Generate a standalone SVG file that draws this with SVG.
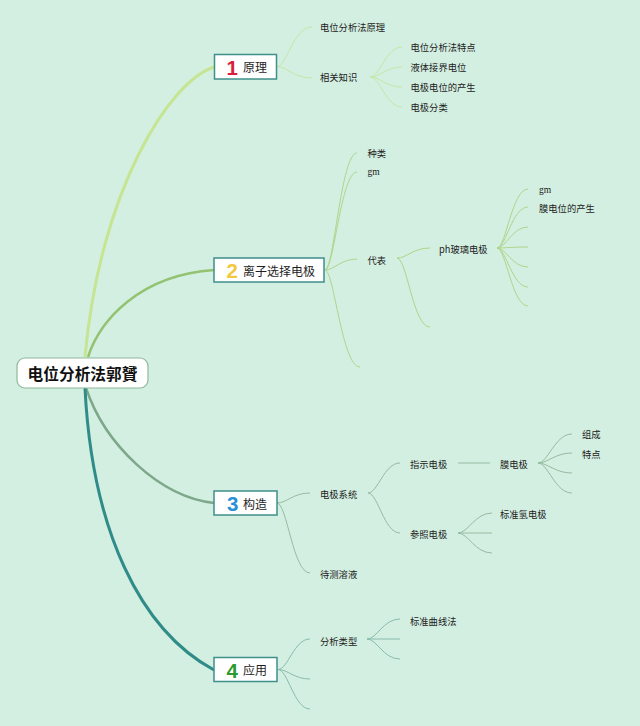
<svg xmlns="http://www.w3.org/2000/svg" width="640" height="726" viewBox="0 0 640 726">
<style>
.t{font-family:"Noto Sans CJK SC","Noto Sans",sans-serif;font-size:9.3px;fill:#222;dominant-baseline:central}
.s{font-family:"Liberation Serif",serif;font-size:9.5px;fill:#222;dominant-baseline:central}
.bl{font-family:"Noto Sans CJK SC","Noto Sans",sans-serif;font-size:12px;fill:#1e1e1e;dominant-baseline:central}
.num{font-family:"Liberation Sans",Arial,sans-serif;font-size:20.5px;font-weight:bold;dominant-baseline:central;text-anchor:end}
.box{fill:#fff;stroke:#3f8f8a;stroke-width:1.5}
.l1{fill:none;stroke:#c6e6a8;stroke-width:1}
.l2{fill:none;stroke:#afd58a;stroke-width:1}
.l3{fill:none;stroke:#95bca0;stroke-width:1}
.l4{fill:none;stroke:#88bcae;stroke-width:1}
</style>
<rect x="0" y="0" width="640" height="726" fill="#d3efe1"/>
<g id="connectors">
<path d="M85,357 C100,190 170,80 214.5,67" fill="none" stroke="#c5e592" stroke-width="3"/>
<path d="M88,357 C100,320 140,275 214,270" fill="none" stroke="#93c270" stroke-width="2.5"/>
<path d="M86,388 C105,445 160,497 214,503" fill="none" stroke="#7ea88a" stroke-width="2.5"/>
<path d="M85,388 C92,530 140,630 214,670" fill="none" stroke="#2f8c88" stroke-width="3"/>
<path class="l1" d="M277,66.5 C287,66.5 293,27 312,27"/>
<path class="l1" d="M277,66.5 C287,66.5 293,78 312,78"/>
<path class="l1" d="M370,77 C380,77 386,47 402,47"/>
<path class="l1" d="M370,77 C380,77 386,67 402,67"/>
<path class="l1" d="M370,77 C380,77 386,87 402,87"/>
<path class="l1" d="M370,77 C380,77 386,107 402,107"/>
<path class="l2" d="M325,270 C334,270 341,153 357,153"/>
<path class="l2" d="M325,270 C334,270 341,172 357,172"/>
<path class="l2" d="M325,270 C334,270 341,259 357,259"/>
<path class="l2" d="M325,270 C334,270 342,367 360,367"/>
<path class="l2" d="M397,258 C407,258 413,248 430,248"/>
<path class="l2" d="M397,258 C407,258 413,327 430,327"/>
<path class="l2" d="M497,248 C506,248 512,189 528,189"/>
<path class="l2" d="M497,248 C506,248 512,207 528,207"/>
<path class="l2" d="M497,248 C506,248 512,227 528,227"/>
<path class="l2" d="M497,248 C506,248 512,247 528,247"/>
<path class="l2" d="M497,248 C506,248 512,267 528,267"/>
<path class="l2" d="M497,248 C506,248 512,287 528,287"/>
<path class="l2" d="M497,248 C506,248 512,306 528,306"/>
<path class="l3" d="M277,503 C287,503 293,493 310,493"/>
<path class="l3" d="M277,503 C287,503 293,573 310,573"/>
<path class="l3" d="M368,493 C378,493 384,463 400,463"/>
<path class="l3" d="M368,493 C378,493 384,533 400,533"/>
<path class="l3" d="M458,463 L490,463"/>
<path class="l3" d="M538,463 C548,463 555,434 572,434"/>
<path class="l3" d="M538,463 C548,463 555,453 572,453"/>
<path class="l3" d="M538,463 C548,463 555,473 572,473"/>
<path class="l3" d="M538,463 C548,463 555,493 572,493"/>
<path class="l3" d="M458,533 C468,533 475,513 492,513"/>
<path class="l3" d="M458,533 C468,533 475,533 492,533"/>
<path class="l3" d="M458,533 C468,533 475,553 492,553"/>
<path class="l4" d="M278,669.5 C288,669.5 294,639 310,639"/>
<path class="l4" d="M278,669.5 C288,669.5 294,679 310,679"/>
<path class="l4" d="M278,669.5 C288,669.5 294,709 310,709"/>
<path class="l4" d="M367,639 C377,639 383,619 400,619"/>
<path class="l4" d="M367,639 C377,639 383,639 400,639"/>
<path class="l4" d="M367,639 C377,639 383,659 400,659"/>
</g>
<g id="root">
<rect x="17" y="358" width="131" height="30" rx="8" fill="#fff" stroke="#8fb89a" stroke-width="1.2"/>
<text x="82.5" y="373.5" text-anchor="middle" style="font-family:'Noto Sans CJK SC','Noto Sans',sans-serif;font-size:15.7px;font-weight:bold;fill:#111;dominant-baseline:central">电位分析法郭贇</text>
</g>
<g id="b1">
<rect class="box" x="214.5" y="54.5" width="62" height="24.5"/>
<text class="num" x="238" y="67" fill="#d81e3a">1</text>
<text class="bl" x="243" y="66.5">原理</text>
</g>
<g id="b1-1"><text class="t" x="320" y="27">电位分析法原理</text></g>
<g id="b1-2"><text class="t" x="320" y="77">相关知识</text></g>
<g id="b1-2-1"><text class="t" x="410.5" y="47">电位分析法特点</text></g>
<g id="b1-2-2"><text class="t" x="410.5" y="67">液体接界电位</text></g>
<g id="b1-2-3"><text class="t" x="410.5" y="87">电极电位的产生</text></g>
<g id="b1-2-4"><text class="t" x="410.5" y="107">电极分类</text></g>
<g id="b2">
<rect class="box" x="214" y="258" width="110" height="24"/>
<text class="num" x="238" y="270.5" fill="#f2c93c">2</text>
<text class="bl" x="243" y="270">离子选择电极</text>
</g>
<g id="b2-1"><text class="t" x="367.5" y="153">种类</text></g>
<g id="b2-2"><text class="s" x="367.5" y="172">gm</text></g>
<g id="b2-3"><text class="t" x="367.5" y="260">代表</text></g>
<g id="b2-3-1"><text class="t" x="439" y="249">ph玻璃电极</text></g>
<g id="b2-3-1-1"><text class="s" x="539" y="190">gm</text></g>
<g id="b2-3-1-2"><text class="t" x="539" y="208">膜电位的产生</text></g>
<g id="b3">
<rect class="box" x="214" y="491" width="63" height="24"/>
<text class="num" x="238.5" y="503.5" fill="#2a8fd6">3</text>
<text class="bl" x="243" y="503">构造</text>
</g>
<g id="b3-1"><text class="t" x="320" y="494">电极系统</text></g>
<g id="b3-2"><text class="t" x="320" y="574">待测溶液</text></g>
<g id="b3-1-1"><text class="t" x="410" y="464">指示电极</text></g>
<g id="b3-1-2"><text class="t" x="410" y="534">参照电极</text></g>
<g id="b3-1-1-1"><text class="t" x="500" y="464">膜电极</text></g>
<g id="b3-1-1-1-1"><text class="t" x="582" y="434">组成</text></g>
<g id="b3-1-1-1-2"><text class="t" x="582" y="454">特点</text></g>
<g id="b3-1-2-1"><text class="t" x="500" y="514">标准氢电极</text></g>
<g id="b4">
<rect class="box" x="214" y="657.5" width="63" height="24"/>
<text class="num" x="238" y="670" fill="#2a9a32">4</text>
<text class="bl" x="243" y="669.5">应用</text>
</g>
<g id="b4-1"><text class="t" x="320" y="640.5">分析类型</text></g>
<g id="b4-1-1"><text class="t" x="410" y="620.5">标准曲线法</text></g>
</svg>
